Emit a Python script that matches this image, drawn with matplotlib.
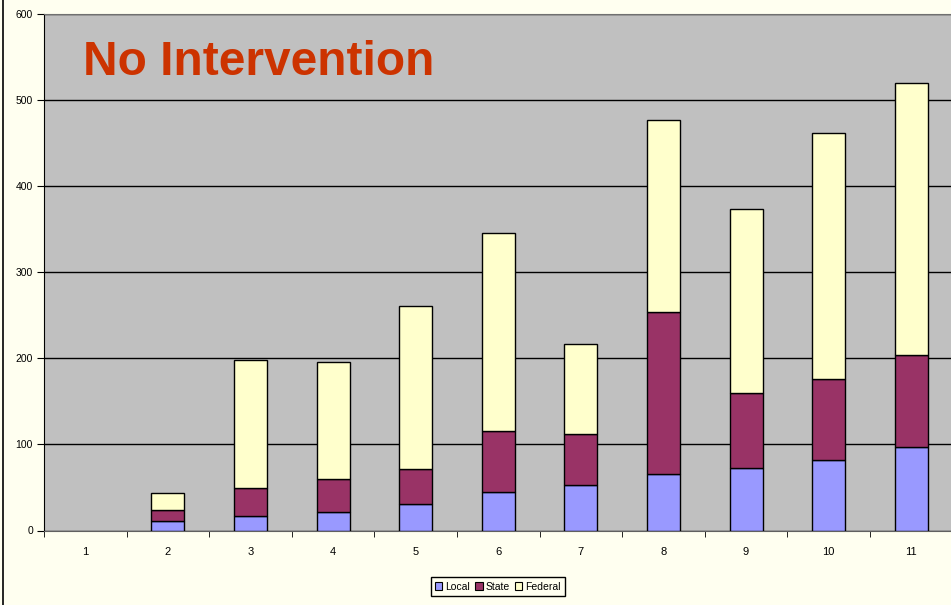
import matplotlib.pyplot as plt
from matplotlib.patches import Patch
import numpy as np

categories = [str(i) for i in range(1, 12)]
local = [0, 11, 17, 21.5, 31, 45, 53, 66, 72, 82, 97]
state = [0, 13, 32, 38.5, 40, 70, 59, 188, 88, 93.5, 107]
federal = [0, 19, 149, 135, 190, 230.5, 104, 222, 213.5, 286, 315]
series_names = ['Local', 'State', 'Federal']
series_colors = ['#9999FF', '#993366', '#FFFFCC']

plt.rcParams['font.family'] = ['Liberation Sans', 'DejaVu Sans']

fig = plt.figure(figsize=(9.51, 6.05), dpi=100, facecolor='#FFFFF0')
ax = fig.add_axes([44 / 951, (605 - 530.5) / 605, (952.5 - 44) / 951, 517 / 605])
ax.set_facecolor('#C0C0C0')

x = np.arange(len(categories))
bottom = np.zeros(len(categories))
for vals, name, col in zip([local, state, federal], series_names, series_colors):
    v = np.array(vals, dtype=float)
    # no outline for empty segments (category 1 is all zero)
    ax.bar(x, v, 0.4, bottom=bottom, color=col, edgecolor='black',
           linewidth=[0 if a == 0 else 1 for a in v], zorder=3)
    bottom += v

ax.set_xlim(-0.5, len(categories) - 0.5)
ax.set_ylim(0, 600)
ax.set_yticks(range(0, 601, 100))
ax.yaxis.grid(True, color='black', linewidth=1, zorder=1)
ax.set_axisbelow(True)

ax.set_xticks(x)
ax.set_xticklabels(categories)
ax.set_xticks(np.arange(-0.5, len(categories), 1), minor=True)
ax.tick_params(axis='x', which='major', length=0, pad=12, labelsize=8)
ax.tick_params(axis='x', which='minor', length=4, direction='out')
ax.tick_params(axis='y', length=5, labelsize=7.5, pad=3)

ax.spines['right'].set_visible(False)
ax.spines['top'].set_color('#707070')
ax.spines['bottom'].set_color('#606060')
ax.spines['left'].set_color('black')

ax.text(0.043, 0.905, 'No Intervention', transform=ax.transAxes, fontsize=34.5,
        fontweight='bold', color='#CC3300', va='center', ha='left')

handles = [Patch(facecolor=c, edgecolor='black', linewidth=0.8, label=n)
           for n, c in zip(series_names, series_colors)]
fig.legend(handles=handles, loc='lower center', bbox_to_anchor=(498 / 951, 4 / 605), ncol=3,
           fontsize=7.5, frameon=True, fancybox=False, edgecolor='black',
           handlelength=0.7, handleheight=0.7, handletextpad=0.3, columnspacing=0.5,
           borderpad=0.4, framealpha=1, facecolor='#FFFFF0')

fig.add_artist(plt.Line2D([2.5 / 951, 2.5 / 951], [0, 1], color='black', linewidth=1.2,
                          transform=fig.transFigure))

fig.savefig('out.png', dpi=100, facecolor=fig.get_facecolor())
